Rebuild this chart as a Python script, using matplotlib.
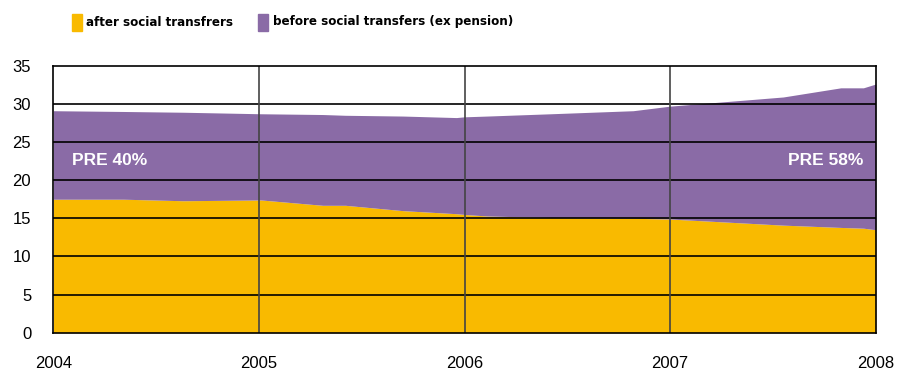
import matplotlib.pyplot as plt
from matplotlib.patches import Rectangle

# Poverty rate series, fractional years
years = [2004.0, 2004.34, 2004.63, 2005.01, 2005.31, 2005.42, 2005.70, 2005.96,
         2006.0, 2006.11, 2006.42, 2006.82, 2007.0, 2007.55, 2007.83, 2007.94, 2008.0]
after_transfers = [17.5, 17.5, 17.3, 17.4, 16.7, 16.7, 16.0, 15.6,
                   15.5, 15.3, 15.1, 15.0, 14.9, 14.1, 13.8, 13.7, 13.5]
before_transfers = [29.1, 29.0, 28.9, 28.7, 28.6, 28.5, 28.4, 28.2,
                    28.3, 28.4, 28.7, 29.1, 29.7, 30.9, 32.1, 32.1, 32.6]

year_ticks = [2004, 2005, 2006, 2007, 2008]
y_ticks = [0, 5, 10, 15, 20, 25, 30, 35]

yellow = '#F9BA00'
purple = '#8A6BA6'

plt.rcParams['font.family'] = ['Liberation Sans', 'DejaVu Sans']

fig = plt.figure(figsize=(8.97, 3.71), dpi=100)
ax = fig.add_axes([0.0596, 0.1032, 0.9167, 0.7197])

ax.fill_between(years, 0, after_transfers, color=yellow, lw=0, zorder=1)
ax.fill_between(years, after_transfers, before_transfers, color=purple, lw=0, zorder=1)

# grid drawn over the areas
for y in y_ticks[1:-1]:
    ax.axhline(y, color='black', lw=1.2, zorder=3)
for yr in year_ticks[1:-1]:
    ax.axvline(yr, color='#444444', lw=1.2, zorder=3)

ax.set_xlim(2004, 2008)
ax.set_ylim(0, 35)
ax.set_xticks(year_ticks)
ax.set_yticks(y_ticks)
ax.tick_params(length=0, labelsize=12)
ax.tick_params(axis='x', pad=17)
ax.tick_params(axis='y', pad=16)
for s in ax.spines.values():
    s.set_color('black')
    s.set_linewidth(1.2)
    s.set_zorder(4)

ax.text(2004.09, 22.6, 'PRE 40%', color='white', fontsize=12.5, fontweight='bold',
        va='center', ha='left', zorder=5)
ax.text(2007.94, 22.6, 'PRE 58%', color='white', fontsize=12.5, fontweight='bold',
        va='center', ha='right', zorder=5)

# legend along the top
fig.patches.append(Rectangle((72 / 897, 1 - 31 / 371), 10 / 897, 17 / 371,
                             transform=fig.transFigure, color=yellow))
fig.text(86 / 897, 1 - 22 / 371, 'after social transfrers', family='DejaVu Sans',
         fontstretch='condensed', fontsize=9.5, fontweight='bold', va='center', ha='left')
fig.patches.append(Rectangle((258 / 897, 1 - 31 / 371), 10 / 897, 17 / 371,
                             transform=fig.transFigure, color=purple))
fig.text(273 / 897, 1 - 22 / 371, 'before social transfers (ex pension)', family='DejaVu Sans',
         fontstretch='condensed', fontsize=9.5, fontweight='bold', va='center', ha='left')

fig.savefig('out.png', dpi=100)
